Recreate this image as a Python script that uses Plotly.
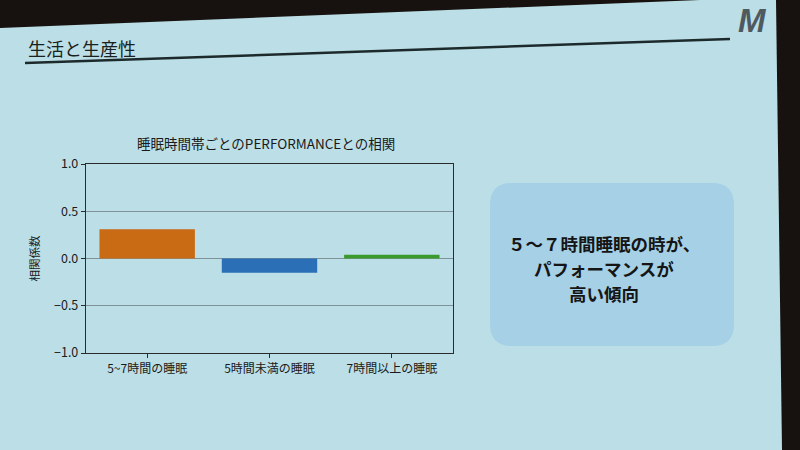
import plotly.graph_objects as go

# ---- data ----
categories = ["5~7時間の睡眠", "5時間未満の睡眠", "7時間以上の睡眠"]
correlations = [0.31, -0.15, 0.04]
bar_colors = ["#c96a14", "#2b6fb6", "#3b9a2c"]
y_ticks = [1.0, 0.5, 0.0, -0.5, -1.0]
y_tick_labels = ["1.0", "0.5", "0.0", "−0.5", "−1.0"]

chart_title = "睡眠時間帯ごとのPERFORMANCEとの相関"
y_title = "相関係数"
slide_title = "生活と生産性"
message_lines = ["５～７時間睡眠の時が、", "パフォーマンスが", "高い傾向"]

W, H = 800, 450
FONT = "Noto Sans CJK JP, Noto Sans, sans-serif"
SLIDE_BG = "#bcdfe7"
DARK = "#17120f"

def px(x):
    return x / W

def py(y):
    return 1 - y / H

fig = go.Figure()
fig.add_trace(go.Bar(
    x=categories, y=correlations, marker_color=bar_colors,
    marker_line_width=0, width=0.78, showlegend=False,
))

shapes = []
# slide surface (photo of projected slide)
shapes.append(dict(
    type="path", xref="paper", yref="paper", layer="below",
    path=f"M 0,{py(28)} L {px(700)},1 L {px(776)},1 L {px(782)},0 L 0,0 Z",
    fillcolor=SLIDE_BG, line_width=0,
))
# slide title underline
shapes.append(dict(
    type="line", xref="paper", yref="paper",
    x0=px(25), y0=py(63), x1=px(730), y1=py(39),
    line=dict(color="#1d2a2c", width=2.5),
))
# rounded message box
x0, x1, y0, y1 = px(490), px(734), py(346), py(183)
rx, ry = 22 / W, 22 / H
box = (f"M {x0+rx},{y1} L {x1-rx},{y1} Q {x1},{y1} {x1},{y1-ry} "
       f"L {x1},{y0+ry} Q {x1},{y0} {x1-rx},{y0} L {x0+rx},{y0} "
       f"Q {x0},{y0} {x0},{y0+ry} L {x0},{y1-ry} Q {x0},{y1} {x0+rx},{y1} Z")
shapes.append(dict(type="path", xref="paper", yref="paper", layer="below",
                   path=box, fillcolor="#a5d0e6", line_width=0))

annotations = [
    dict(text=slide_title, x=px(26), y=py(48), xref="paper", yref="paper",
         xanchor="left", yanchor="middle", showarrow=False,
         font=dict(family=FONT, size=18, color="#1a1f20")),
    dict(text="<b><i>M</i></b>", x=px(752), y=py(21), xref="paper", yref="paper",
         xanchor="center", yanchor="middle", showarrow=False,
         font=dict(family="Liberation Sans, sans-serif", size=33, color="#4e5a60")),
    dict(text=chart_title, x=px(266), y=py(143), xref="paper", yref="paper",
         xanchor="center", yanchor="middle", showarrow=False,
         font=dict(family=FONT, size=13.5, color="#1a1a1a")),
]
for line, yy in zip(message_lines, [243, 268, 293]):
    annotations.append(dict(
        text=f"<b>{line}</b>", x=px(604), y=py(yy), xref="paper", yref="paper",
        xanchor="center", yanchor="middle", showarrow=False,
        font=dict(family=FONT, size=17.5, color="#151515")))

fig.update_layout(
    width=W, height=H,
    margin=dict(l=0, r=0, t=0, b=0, pad=0, autoexpand=False),
    paper_bgcolor=DARK,
    plot_bgcolor="rgba(0,0,0,0)",
    shapes=shapes,
    annotations=annotations,
    xaxis=dict(
        domain=[px(86), px(453)], range=[-0.5, 2.5], automargin=False,
        showline=True, linecolor="#2b2b2b", linewidth=1.2, mirror=True,
        ticks="outside", ticklen=4, tickcolor="#2b2b2b",
        showgrid=False, zeroline=False,
        tickfont=dict(family=FONT, size=12, color="#1a1a1a"),
    ),
    yaxis=dict(
        domain=[py(353), py(164)], range=[-1.0, 1.0], automargin=False,
        tickvals=y_ticks, ticktext=y_tick_labels,
        showline=True, linecolor="#2b2b2b", linewidth=1.2, mirror=True,
        ticks="outside", ticklen=4, tickcolor="#2b2b2b",
        showgrid=True, gridcolor="#7f9297", gridwidth=1,
        zeroline=False,
        tickfont=dict(family=FONT, size=12.5, color="#1a1a1a"),
        title=dict(text=y_title, standoff=12,
                   font=dict(family=FONT, size=11.5, color="#1a1a1a")),
    ),
)

fig.write_html(
    "out.html",
    config={"displayModeBar": False, "staticPlot": True},
    post_script=(
        "document.documentElement.style.margin='0';"
        "document.body.style.margin='0';document.body.style.overflow='hidden';"
        "document.body.style.background='#17120f';"
        "var gd=document.getElementById('{plot_id}');"
        "gd.style.position='fixed';gd.style.top='0px';gd.style.left='0px';"
    ),
)
